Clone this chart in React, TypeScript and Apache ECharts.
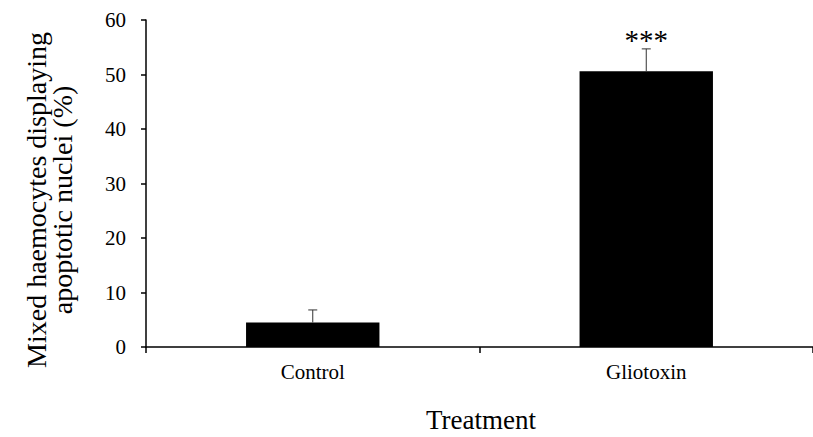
import React, { useEffect, useRef } from "react";
import * as echarts from "echarts";

const categories = ["Control", "Gliotoxin"];
const means = [4.5, 50.6];
const errors = [2.3, 4.1];
const significance = ["", "***"];
const yMin = 0;
const yMax = 60;
const yInterval = 10;
const yTitle = "Mixed haemocytes displaying\napoptotic nuclei (%)";
const xTitle = "Treatment";

const FONT = "'Liberation Serif', 'Times New Roman', serif";

export default function App() {
  const ref = useRef<HTMLDivElement>(null);
  useEffect(() => {
    if (!ref.current) return;
    const chart = echarts.init(ref.current, null, { renderer: "svg" });
    const option: any = {
      animation: false,
      backgroundColor: "#ffffff",
      grid: { left: 146, top: 20, width: 676, height: 327, containLabel: false },
      xAxis: {
        type: "category",
        data: categories,
        boundaryGap: true,
        axisLine: { show: true, lineStyle: { color: "#000", width: 1.5 } },
        axisTick: { show: true, alignWithLabel: false, length: 6, lineStyle: { color: "#000", width: 1.5 } },
        axisLabel: { color: "#000", fontFamily: FONT, fontSize: 21, margin: 14 },
        splitLine: { show: false },
      },
      yAxis: {
        type: "value",
        min: yMin,
        max: yMax,
        interval: yInterval,
        axisLine: { show: true, lineStyle: { color: "#000", width: 1.5 } },
        axisTick: { show: true, length: 5, lineStyle: { color: "#000", width: 1.5 } },
        axisLabel: { color: "#000", fontFamily: FONT, fontSize: 21, margin: 20 },
        splitLine: { show: false },
      },
      graphic: [
        {
          type: "text",
          x: 49,
          y: 200,
          rotation: Math.PI / 2,
          style: {
            text: yTitle,
            fontFamily: FONT,
            fontSize: 28,
            lineHeight: 26,
            fill: "#000",
            align: "center",
            verticalAlign: "middle",
          },
        },
        {
          type: "text",
          x: 481,
          y: 420,
          style: {
            text: xTitle,
            fontFamily: FONT,
            fontSize: 27,
            fill: "#000",
            align: "center",
            verticalAlign: "middle",
          },
        },
      ],
      series: [
        {
          type: "bar",
          data: means,
          barWidth: "40%",
          itemStyle: { color: "#000" },
          z: 2,
        },
        {
          type: "custom",
          z: 3,
          data: categories.map((c, i) => [i, means[i], means[i] + errors[i]]),
          renderItem: (params: any, api: any) => {
            const idx = params.dataIndex;
            const x = api.value(0);
            const lo = api.coord([x, api.value(1)]);
            const hi = api.coord([x, api.value(2)]);
            const half = 4.5;
            const children: any[] = [
              {
                type: "line",
                shape: { x1: lo[0], y1: lo[1], x2: hi[0], y2: hi[1] },
                style: { stroke: "#333", lineWidth: 1 },
              },
              {
                type: "line",
                shape: { x1: hi[0] - half, y1: hi[1], x2: hi[0] + half, y2: hi[1] },
                style: { stroke: "#333", lineWidth: 1 },
              },
            ];
            if (significance[idx]) {
              children.push({
                type: "text",
                x: hi[0],
                y: hi[1] - 8.5,
                style: {
                  text: significance[idx],
                  fontFamily: FONT,
                  fontSize: 29,
                  fill: "#000",
                  align: "center",
                  verticalAlign: "middle",
                },
              });
            }
            return { type: "group", children };
          },
        },
      ],
    };
    chart.setOption(option);
    return () => chart.dispose();
  }, []);
  return (
    <div
      ref={ref}
      style={{ position: "fixed", left: 0, top: 0, width: 813, height: 437, overflow: "hidden", background: "#fff" }}
    />
  );
}
